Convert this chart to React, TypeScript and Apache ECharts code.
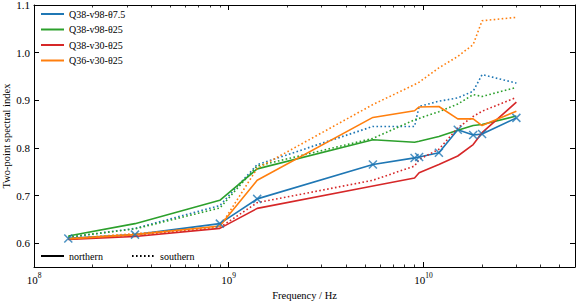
import React, { useEffect, useRef } from "react";
import * as echarts from "echarts";

// Frequencies (Hz)
const FREQ_HZ = [1.5e8, 3.3e8, 9e8, 1.4e9, 5.5e9, 9e9, 9.5e9, 1.2e10, 1.5e10, 1.8e10, 2.0e10, 3.0e10];

// Series names
const NAME_BLUE = "Q38-v98-θ7.5";
const NAME_GREEN = "Q38-v98-θ25";
const NAME_RED = "Q38-v30-θ25";
const NAME_ORANGE = "Q36-v30-θ25";

// Two-point spectral index values (northern = solid, southern = dotted)
const BLUE_NORTH = [0.610, 0.618, 0.641, 0.693, 0.765, 0.779, 0.781, 0.790, 0.838, 0.827, 0.829, 0.863];
const BLUE_SOUTH = [0.612, 0.631, 0.679, 0.765, 0.845, 0.845, 0.887, 0.898, 0.905, 0.919, 0.954, 0.936];
const GREEN_NORTH = [0.615, 0.641, 0.690, 0.756, 0.817, 0.812, 0.814, 0.824, 0.837, 0.847, 0.849, 0.867];
const GREEN_SOUTH = [0.613, 0.630, 0.674, 0.762, 0.820, 0.859, 0.862, 0.876, 0.892, 0.912, 0.908, 0.927];
const RED_NORTH = [0.608, 0.614, 0.631, 0.673, 0.720, 0.737, 0.748, 0.765, 0.783, 0.807, 0.832, 0.896];
const RED_SOUTH = [0.609, 0.617, 0.633, 0.685, 0.732, 0.762, 0.776, 0.797, 0.842, 0.866, 0.877, 0.906];
const ORANGE_NORTH = [0.609, 0.618, 0.636, 0.732, 0.864, 0.878, 0.886, 0.887, 0.861, 0.861, 0.847, 0.877];
const ORANGE_SOUTH = [0.610, 0.620, 0.634, 0.757, 0.891, 0.933, 0.938, 0.968, 0.992, 1.017, 1.067, 1.074];

// Axes
const X_MIN_HZ = 1e8;
const X_MAX_HZ = 6e10;
const X_MAJOR_EXP = [8, 9, 10];
const X_MINOR_MULT = [2, 3, 4, 5, 6, 7, 8, 9];
const Y_MIN = 0.55;
const Y_MAX = 1.1;
const Y_TICKS = [0.6, 0.7, 0.8, 0.9, 1.0, 1.1];

const COLORS = {
  blue: "#1f77b4",
  orange: "#ff7f0e",
  green: "#2ca02c",
  red: "#d62728",
};

const SERIF = "Liberation Serif";
const DOT: number[] = [1.6, 2.4];

export default function App() {
  const ref = useRef<HTMLDivElement>(null);

  useEffect(() => {
    if (!ref.current) return;
    const chart = echarts.init(ref.current, null, { renderer: "svg" });

    const xMin = Math.log10(X_MIN_HZ);
    const xMax = Math.log10(X_MAX_HZ);
    const xMinor: number[] = [];
    X_MAJOR_EXP.forEach((e) => {
      X_MINOR_MULT.forEach((m) => {
        const v = Math.log10(m) + e;
        if (v < xMax) xMinor.push(v);
      });
    });

    const toPts = (vals: number[]) => vals.map((v, i) => [Math.log10(FREQ_HZ[i]), v]);

    const lineSeries = (name: string, color: string, vals: number[], dotted: boolean) => ({
      type: "line",
      name,
      data: toPts(vals),
      symbol: "none",
      color,
      lineStyle: { color, width: 1.6, type: dotted ? DOT : "solid", cap: "butt" },
      silent: true,
      z: 2,
    });

    const axisLine = { show: true, onZero: false, lineStyle: { color: "#000", width: 1 } };
    const baseX = { type: "value", min: xMin, max: xMax, splitLine: { show: false } };
    const baseY = { type: "value", min: Y_MIN, max: Y_MAX, splitLine: { show: false } };
    const hiddenSymbol = { color: "rgba(0,0,0,0)", borderColor: "rgba(0,0,0,0)", borderWidth: 0, opacity: 0 };
    const legendText = { fontFamily: SERIF, fontSize: 10, color: "#000" };

    const option: any = {
      animation: false,
      textStyle: { fontFamily: SERIF },
      grid: { left: 34, right: 2, top: 5, bottom: 36, containLabel: false, outerBoundsMode: "none" },
      xAxis: [
        {
          ...baseX,
          position: "bottom",
          axisLine,
          axisTick: { show: true, inside: true, length: 5, customValues: X_MAJOR_EXP, lineStyle: { color: "#000", width: 1 } },
          axisLabel: {
            customValues: X_MAJOR_EXP,
            margin: 4,
            color: "#000",
            fontFamily: SERIF,
            fontSize: 11,
            formatter: (v: number) => `{b|10}{sup|${Math.round(v)}}`,
            rich: {
              b: { fontFamily: SERIF, fontSize: 11, color: "#000", lineHeight: 14, verticalAlign: "bottom" },
              sup: { fontFamily: SERIF, fontSize: 7.5, color: "#000", lineHeight: 14, verticalAlign: "top", padding: [0, 0, 6, 0] },
            },
          },
          name: "Frequency / Hz",
          nameLocation: "middle",
          nameGap: 21,
          nameTextStyle: { fontFamily: SERIF, fontSize: 10.5, color: "#000" },
        },
        {
          ...baseX,
          position: "bottom",
          axisLine: { show: false, onZero: false },
          axisTick: { show: true, inside: true, length: 2.5, customValues: xMinor, lineStyle: { color: "#000", width: 0.8 } },
          axisLabel: { show: false },
        },
        {
          ...baseX,
          position: "top",
          axisLine,
          axisTick: { show: true, inside: true, length: 5, customValues: X_MAJOR_EXP, lineStyle: { color: "#000", width: 1 } },
          axisLabel: { show: false },
        },
        {
          ...baseX,
          position: "top",
          axisLine: { show: false, onZero: false },
          axisTick: { show: true, inside: true, length: 2.5, customValues: xMinor, lineStyle: { color: "#000", width: 0.8 } },
          axisLabel: { show: false },
        },
      ],
      yAxis: [
        {
          ...baseY,
          position: "left",
          axisLine,
          axisTick: { show: true, inside: true, length: 5, customValues: Y_TICKS, lineStyle: { color: "#000", width: 1 } },
          axisLabel: {
            customValues: Y_TICKS,
            margin: 4,
            color: "#000",
            fontFamily: SERIF,
            fontSize: 11,
            formatter: (v: number) => v.toFixed(1),
          },
          name: "Two-point spectral index",
          nameLocation: "middle",
          nameGap: 22,
          nameMoveOverlap: false,
          nameTextStyle: { fontFamily: SERIF, fontSize: 10.5, color: "#000" },
        },
        {
          ...baseY,
          position: "right",
          axisLine,
          axisTick: { show: true, inside: true, length: 5, customValues: Y_TICKS, lineStyle: { color: "#000", width: 1 } },
          axisLabel: { show: false },
        },
      ],
      legend: [
        {
          data: [NAME_BLUE, NAME_GREEN, NAME_RED, NAME_ORANGE],
          orient: "vertical",
          left: 35,
          top: 4,
          itemWidth: 23,
          itemHeight: 10,
          itemGap: 5.5,
          selectedMode: false,
          itemStyle: hiddenSymbol,
          textStyle: legendText,
        },
        {
          data: ["northern"],
          orient: "horizontal",
          left: 35,
          top: 246,
          itemWidth: 23,
          itemHeight: 10,
          selectedMode: false,
          itemStyle: hiddenSymbol,
          textStyle: legendText,
        },
        {
          data: ["southern"],
          orient: "horizontal",
          left: 126,
          top: 246,
          itemWidth: 23,
          itemHeight: 10,
          selectedMode: false,
          itemStyle: hiddenSymbol,
          textStyle: legendText,
        },
      ],
      series: [
        lineSeries(NAME_BLUE, COLORS.blue, BLUE_NORTH, false),
        lineSeries(NAME_BLUE, COLORS.blue, BLUE_SOUTH, true),
        lineSeries(NAME_GREEN, COLORS.green, GREEN_NORTH, false),
        lineSeries(NAME_GREEN, COLORS.green, GREEN_SOUTH, true),
        lineSeries(NAME_RED, COLORS.red, RED_NORTH, false),
        lineSeries(NAME_RED, COLORS.red, RED_SOUTH, true),
        lineSeries(NAME_ORANGE, COLORS.orange, ORANGE_NORTH, false),
        lineSeries(NAME_ORANGE, COLORS.orange, ORANGE_SOUTH, true),
        {
          type: "line",
          name: "northern",
          data: [],
          symbol: "none",
          color: "#000",
          lineStyle: { color: "#000", width: 1.6, type: "solid" },
        },
        {
          type: "line",
          name: "southern",
          data: [],
          symbol: "none",
          color: "#000",
          lineStyle: { color: "#000", width: 1.6, type: DOT, cap: "butt" },
        },
        {
          type: "scatter",
          name: "blue-markers",
          data: toPts(BLUE_NORTH),
          symbol: "path://M0 0L10 10M10 0L0 10",
          symbolSize: 8,
          itemStyle: { color: "none", borderColor: COLORS.blue, borderWidth: 1.5 },
          silent: true,
          z: 5,
        },
      ],
    };

    chart.setOption(option);
    return () => chart.dispose();
  }, []);

  return (
    <div
      ref={ref}
      style={{ position: "fixed", left: 0, top: 0, width: 577, height: 303, background: "#fff" }}
    />
  );
}
